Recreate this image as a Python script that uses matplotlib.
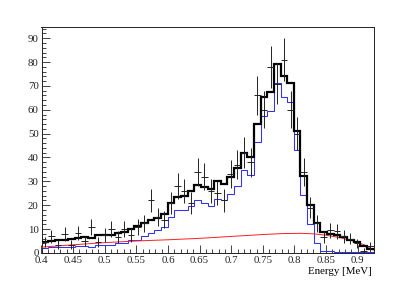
import numpy as np
import matplotlib
matplotlib.use("Agg")
import matplotlib.pyplot as plt
from matplotlib.ticker import MultipleLocator

# ---- data ----
e_min, e_max, n_bins = 0.4, 0.925, 50

data_counts = [4.5, 7, 3.5, 8, 3.5, 8.5, 5, 11, 4.5, 7.5,
               10, 6.5, 10, 7.5, 11, 12.5, 22, 15, 14, 21,
               28, 26, 21, 34, 32, 26, 25, 22, 33, 37,
               42, 38, 66, 60, 78, 71, 81, 60, 50, 34,
               19, 12.5, 6.5, 9.5, 9, 7, 6, 4, 1, 3]

total_fit = [4.5, 4.9, 5.2, 5.5, 5.8, 6.2, 6.5, 6.1, 7.4, 7.5,
             7.7, 8.5, 8.7, 10.1, 11.1, 12.5, 13.9, 14.8, 16.1, 20.8,
             23.6, 23.7, 25.9, 28.4, 27.7, 26.6, 30.2, 29.0, 32.0, 35.5,
             42.0, 40.2, 53.9, 65.2, 67.5, 79.3, 74.2, 71.4, 51.3, 32.3,
             19.9, 12.4, 8.8, 7.9, 7.3, 6.6, 5.6, 4.5, 3.1, 1.7]

signal_fit = [2.2, 2.3, 2.3, 2.4, 2.5, 2.7, 2.9, 2.4, 3.5, 3.4,
              3.4, 4.0, 4.0, 5.2, 5.4, 7.0, 8.5, 9.4, 10.7, 15.0,
              17.8, 17.8, 19.5, 22.0, 21.0, 19.8, 22.8, 22.0, 24.8, 28.0,
              34.6, 32.6, 46.3, 57.3, 59.5, 71.1, 65.3, 63.3, 43.0, 24.1,
              12.2, 4.0, 1.0, 0.7, 0.4, 0.3, 0.3, 0.3, 0.3, 0.3]

bkg_energy = [0.40, 0.45, 0.50, 0.55, 0.60, 0.65, 0.70, 0.75, 0.78,
              0.81, 0.83, 0.85, 0.87, 0.89, 0.91, 0.925]
bkg_value = [2.4, 3.4, 4.3, 5.0, 5.5, 6.1, 6.9, 7.7, 8.1,
             8.2, 8.0, 7.4, 6.5, 5.2, 3.4, 1.2]

y_max = 94.7

# ---- plot ----
W, H, DPI = 415, 281, 100
fig = plt.figure(figsize=(W / DPI, H / DPI), dpi=DPI)
ax = fig.add_axes([0.1, 0.1, 0.8, 0.804])

edges = np.linspace(e_min, e_max, n_bins + 1)
centers = 0.5 * (edges[:-1] + edges[1:])
half_w = 0.5 * (edges[1] - edges[0])
counts = np.array(data_counts, dtype=float)

ax.stairs(signal_fit, edges, color="#3030ff", lw=0.75, baseline=None, zorder=2)
ax.plot(bkg_energy, bkg_value, color="#ff2020", lw=0.7, zorder=3)
ax.stairs(total_fit, edges, color="black", lw=1.6, baseline=None, zorder=4)
ax.errorbar(centers, counts, xerr=half_w, yerr=np.sqrt(counts), fmt="none",
            ecolor="#222222", elinewidth=0.7, capsize=0, zorder=5)

ax.set_xlim(e_min, e_max)
ax.set_ylim(0, y_max)

serif = "Liberation Serif"
ax.xaxis.set_major_locator(MultipleLocator(0.05))
ax.xaxis.set_minor_locator(MultipleLocator(0.01))
ax.yaxis.set_major_locator(MultipleLocator(10))
ax.yaxis.set_minor_locator(MultipleLocator(2))
ax.tick_params(which="both", direction="in", top=False, right=False,
               width=0.6, colors="#222222")
ax.tick_params(which="major", length=6, labelsize=7.8, pad=2)
ax.tick_params(which="minor", length=3.2)
for lab in ax.get_xticklabels() + ax.get_yticklabels():
    lab.set_fontfamily(serif)
ax.xaxis.set_major_formatter(plt.FuncFormatter(lambda v, p: f"{v:g}"))

for s in ax.spines.values():
    s.set_linewidth(0.7)
    s.set_color("#222222")

fig.text(0.895, 0.035, "Energy [MeV]", ha="right", va="center",
         fontsize=7.8, family=serif)

fig.savefig("out.png", dpi=DPI)
